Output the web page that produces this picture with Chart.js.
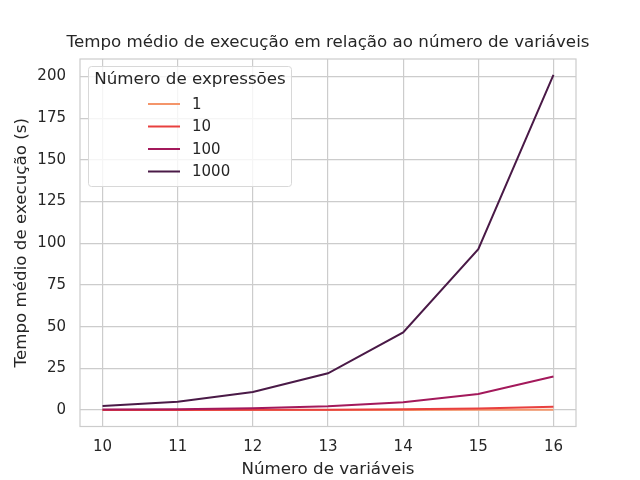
<!DOCTYPE html>
<html>
<head>
<meta charset="utf-8">
<script src="https://cdn.jsdelivr.net/npm/chart.js@4"></script>
<style>
  html, body { margin: 0; padding: 0; background: #fff; }
  #wrap { width: 640px; height: 480px; }
</style>
</head>
<body>
<div id="wrap"><canvas id="chart" width="640" height="480"></canvas></div>
<script>
// Number of variables (x axis)
const variaveis = [10, 11, 12, 13, 14, 15, 16];
// Mean execution time (s) per number of expressions
const tempo1 = [0.003, 0.006, 0.012, 0.025, 0.05, 0.1, 0.2];
const tempo10 = [0.025, 0.05, 0.1, 0.22, 0.47, 0.96, 2.0];
const tempo100 = [0.24, 0.48, 1.05, 2.2, 4.6, 9.6, 20.1];
const tempo1000 = [2.4, 4.9, 10.8, 22.0, 46.5, 96.5, 201.0];
const legendas = ['1', '10', '100', '1000'];
const yTicks = [0, 25, 50, 75, 100, 125, 150, 175, 200];

const cores = ['#f4956a', '#e8403f', '#a3195b', '#4a1a47'];
const series = [tempo1, tempo10, tempo100, tempo1000];
const textColor = '#262626';
const gridColor = '#cccccc';
const fontFamily = '"DejaVu Sans", sans-serif';

const datasets = series.map((vals, i) => ({
    label: legendas[i],
    data: variaveis.map((x, j) => ({ x: x, y: vals[j] })),
    borderColor: cores[i],
    backgroundColor: cores[i],
    borderWidth: 2,
    pointRadius: 0,
    tension: 0,
    fill: false,
    order: series.length - i
}));

// Title, frame and legend drawn on the canvas, matplotlib style
const extras = {
    id: 'extras',
    afterDraw(chart) {
        const { ctx, chartArea } = chart;
        ctx.save();
        ctx.strokeStyle = gridColor;
        ctx.lineWidth = 1.2;
        ctx.strokeRect(chartArea.left, chartArea.top, chartArea.right - chartArea.left, chartArea.bottom - chartArea.top);

        ctx.fillStyle = textColor;
        ctx.font = '16.7px ' + fontFamily;
        ctx.textAlign = 'center';
        ctx.textBaseline = 'middle';
        ctx.fillText('Tempo médio de execução em relação ao número de variáveis', (chartArea.left + chartArea.right) / 2, 43);

        // legend box
        const bx = 88.5, by = 66.5, bw = 203, bh = 120;
        ctx.fillStyle = 'rgba(255,255,255,0.8)';
        ctx.strokeStyle = '#d8d8d8';
        ctx.lineWidth = 1;
        ctx.beginPath();
        ctx.roundRect(bx, by, bw, bh, 3);
        ctx.fill();
        ctx.stroke();
        ctx.fillStyle = textColor;
        ctx.font = '16.7px ' + fontFamily;
        ctx.textAlign = 'center';
        ctx.fillText('Número de expressões', bx + bw / 2, 80);
        ctx.font = '15px ' + fontFamily;
        ctx.textAlign = 'left';
        chart.data.datasets.forEach((ds, i) => {
            const y = 104 + i * 22.5;
            ctx.strokeStyle = ds.borderColor;
            ctx.lineWidth = 2;
            ctx.beginPath();
            ctx.moveTo(148, y);
            ctx.lineTo(180, y);
            ctx.stroke();
            ctx.fillStyle = textColor;
            ctx.fillText(ds.label, 192, y + 1);
        });
        ctx.restore();
    }
};

new Chart(document.getElementById('chart'), {
    type: 'line',
    data: { datasets: datasets },
    options: {
        responsive: false,
        animation: false,
        layout: { padding: { left: 0, right: 64, top: 59, bottom: 0 } },
        plugins: {
            legend: { display: false },
            tooltip: { enabled: false }
        },
        scales: {
            x: {
                type: 'linear',
                min: 9.7,
                max: 16.3,
                afterBuildTicks: (scale) => { scale.ticks = variaveis.map(v => ({ value: v })); },
                afterFit: (scale) => { scale.height = 53.5; },
                ticks: {
                    color: textColor,
                    font: { family: fontFamily, size: 15 },
                    padding: 12
                },
                grid: { color: gridColor, lineWidth: 1.2, drawTicks: false },
                border: { display: false },
                title: {
                    display: true,
                    text: 'Número de variáveis',
                    color: textColor,
                    font: { family: fontFamily, size: 16.7 },
                    padding: { top: 0, bottom: 0 }
                }
            },
            y: {
                min: -9.9,
                max: 210.5,
                afterBuildTicks: (scale) => { scale.ticks = yTicks.map(v => ({ value: v })); },
                afterFit: (scale) => { scale.width = 80; },
                ticks: {
                    color: textColor,
                    font: { family: fontFamily, size: 15 },
                    padding: 14
                },
                grid: { color: gridColor, lineWidth: 1.2, drawTicks: false },
                border: { display: false },
                title: {
                    display: true,
                    text: 'Tempo médio de execução (s)',
                    color: textColor,
                    font: { family: fontFamily, size: 16.7 },
                    padding: { top: 12, bottom: 0 }
                }
            }
        }
    },
    plugins: [extras]
});
</script>
</body>
</html>
